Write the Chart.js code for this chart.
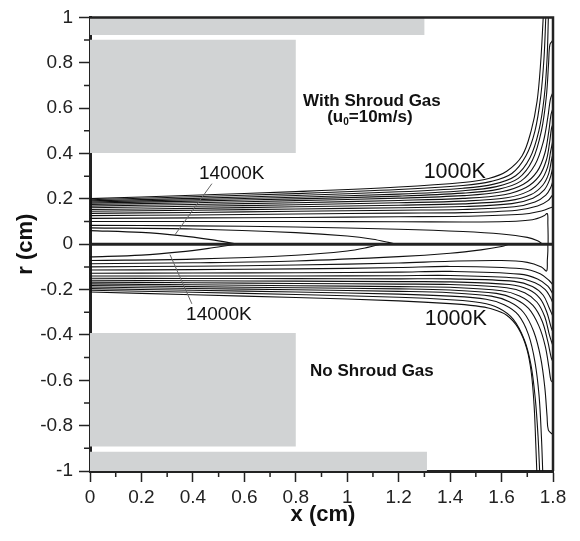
<!DOCTYPE html>
<html><head><meta charset="utf-8">
<script src="https://cdn.jsdelivr.net/npm/chart.js@4/dist/chart.umd.min.js"></script>
<style>html,body{margin:0;padding:0;background:#fff}#wrap{width:580px;height:541px;position:relative}</style>
</head><body><div id="wrap"><canvas id="c" width="580" height="541"></canvas></div>
<script>
// ---- axis ticks ----
const xTicks = [0,0.2,0.4,0.6,0.8,1,1.2,1.4,1.6,1.8];
const xTickLabels = ['0','0.2','0.4','0.6','0.8','1','1.2','1.4','1.6','1.8'];
const xMinorTicks = [0.1,0.3,0.5,0.7,0.9,1.1,1.3,1.5,1.7];
const yTicks = [-1,-0.8,-0.6,-0.4,-0.2,0,0.2,0.4,0.6,0.8,1];
const yTickLabels = ['-1','-0.8','-0.6','-0.4','-0.2','0','0.2','0.4','0.6','0.8','1'];
const yMinorTicks = [-0.9,-0.7,-0.5,-0.3,-0.1,0.1,0.3,0.5,0.7,0.9];

// ---- grey blocks (x0, x1, r0, r1) ----
const blocks = [
  [0,1.30,0.922,1.0],
  [0,0.80,0.402,0.902],
  [0,0.80,-0.892,-0.392],
  [0,1.31,-1.0,-0.915]
];

// ---- isotherms, upper half (with shroud gas) [x, r] ----
const upperLines = [
  [[0,0.201],[0.4,0.216],[0.8,0.232],[1.2,0.252],[1.45,0.272],[1.55,0.29],[1.62,0.322],[1.68,0.39],[1.715,0.5],[1.738,0.63],[1.752,0.8],[1.762,1.0]],
  [[0,0.196],[0.4,0.209],[0.8,0.223],[1.2,0.241],[1.45,0.259],[1.56,0.277],[1.64,0.312],[1.695,0.39],[1.73,0.5],[1.752,0.65],[1.765,0.82],[1.772,1.0]],
  [[0,0.191],[0.4,0.202],[0.8,0.215],[1.2,0.231],[1.45,0.247],[1.57,0.265],[1.655,0.302],[1.71,0.38],[1.745,0.5],[1.766,0.65],[1.777,0.82],[1.782,1.0]],
  [[0,0.186],[0.4,0.196],[0.8,0.207],[1.2,0.221],[1.45,0.236],[1.58,0.254],[1.665,0.29],[1.72,0.37],[1.755,0.5],[1.774,0.65],[1.783,0.8],[1.788,0.88],[1.8,0.9]],
  [[0,0.181],[0.4,0.19],[0.8,0.2],[1.2,0.212],[1.45,0.225],[1.59,0.243],[1.675,0.278],[1.73,0.35],[1.762,0.45],[1.78,0.56],[1.79,0.64],[1.8,0.67]],
  [[0,0.175],[0.4,0.183],[0.8,0.192],[1.2,0.203],[1.45,0.214],[1.6,0.231],[1.685,0.264],[1.738,0.32],[1.768,0.4],[1.784,0.5],[1.792,0.57],[1.8,0.6]],
  [[0,0.168],[0.4,0.175],[0.8,0.183],[1.2,0.193],[1.45,0.202],[1.61,0.218],[1.695,0.25],[1.746,0.3],[1.774,0.37],[1.787,0.45],[1.794,0.51],[1.8,0.53]],
  [[0,0.161],[0.4,0.167],[0.8,0.174],[1.2,0.183],[1.45,0.19],[1.62,0.205],[1.705,0.234],[1.753,0.28],[1.779,0.34],[1.791,0.41],[1.8,0.46]],
  [[0,0.153],[0.4,0.158],[0.8,0.165],[1.2,0.172],[1.45,0.178],[1.63,0.192],[1.715,0.219],[1.76,0.26],[1.783,0.31],[1.794,0.37],[1.8,0.4]],
  [[0,0.145],[0.4,0.15],[0.8,0.155],[1.2,0.161],[1.45,0.166],[1.64,0.179],[1.722,0.203],[1.766,0.24],[1.787,0.285],[1.8,0.34]],
  [[0,0.136],[0.4,0.14],[0.8,0.145],[1.2,0.15],[1.45,0.153],[1.65,0.165],[1.73,0.186],[1.772,0.216],[1.791,0.25],[1.8,0.28]],
  [[0,0.126],[0.4,0.129],[0.8,0.133],[1.2,0.137],[1.45,0.139],[1.66,0.15],[1.74,0.168],[1.78,0.192],[1.8,0.22]],
  [[0,0.114],[0.4,0.116],[0.8,0.118],[1.2,0.121],[1.45,0.123],[1.68,0.132],[1.755,0.146],[1.8,0.165]],
  [[0,0.1],[0.4,0.1],[0.8,0.1],[1.2,0.099],[1.45,0.098],[1.62,0.1],[1.72,0.108],[1.765,0.125],[1.778,0.135],[1.78,0.09],[1.781,0.04],[1.781,0]],
  [[0,0.083],[0.4,0.081],[0.8,0.076],[1.2,0.066],[1.45,0.056],[1.6,0.045],[1.7,0.03],[1.74,0.015],[1.76,0]],
  [[0,0.072],[0.4,0.067],[0.8,0.051],[1.0,0.036],[1.1,0.022],[1.16,0.008],[1.19,0]],
  [[0,0.06],[0.2,0.052],[0.35,0.038],[0.47,0.02],[0.576,0]]
];

// ---- isotherms, lower half (no shroud gas) [x, r] ----
const lowerLines = [
  [[0,-0.211],[0.4,-0.223],[0.8,-0.235],[1.2,-0.25],[1.4,-0.262],[1.5,-0.272],[1.56,-0.285],[1.62,-0.313],[1.665,-0.37],[1.698,-0.46],[1.716,-0.57],[1.727,-0.72],[1.733,-0.88],[1.737,-1.0]],
  [[0,-0.203],[0.4,-0.212],[0.8,-0.222],[1.2,-0.234],[1.4,-0.245],[1.52,-0.258],[1.59,-0.282],[1.645,-0.33],[1.688,-0.42],[1.714,-0.53],[1.731,-0.68],[1.742,-0.85],[1.748,-1.0]],
  [[0,-0.196],[0.4,-0.203],[0.8,-0.211],[1.2,-0.22],[1.4,-0.229],[1.54,-0.243],[1.61,-0.267],[1.665,-0.312],[1.705,-0.4],[1.73,-0.52],[1.746,-0.67],[1.755,-0.85],[1.76,-1.0]],
  [[0,-0.189],[0.4,-0.195],[0.8,-0.201],[1.2,-0.208],[1.4,-0.214],[1.56,-0.229],[1.63,-0.254],[1.685,-0.3],[1.725,-0.385],[1.752,-0.5],[1.768,-0.63],[1.777,-0.76],[1.782,-0.82],[1.8,-0.84]],
  [[0,-0.182],[0.4,-0.187],[0.8,-0.192],[1.2,-0.197],[1.4,-0.202],[1.58,-0.217],[1.65,-0.24],[1.705,-0.283],[1.745,-0.36],[1.77,-0.45],[1.785,-0.55],[1.792,-0.6],[1.8,-0.61]],
  [[0,-0.175],[0.4,-0.179],[0.8,-0.183],[1.2,-0.187],[1.4,-0.19],[1.6,-0.205],[1.67,-0.228],[1.722,-0.27],[1.758,-0.34],[1.78,-0.43],[1.793,-0.5],[1.8,-0.52]],
  [[0,-0.167],[0.4,-0.17],[0.8,-0.173],[1.2,-0.176],[1.4,-0.178],[1.62,-0.192],[1.69,-0.214],[1.738,-0.256],[1.768,-0.32],[1.786,-0.4],[1.8,-0.45]],
  [[0,-0.159],[0.4,-0.161],[0.8,-0.163],[1.2,-0.165],[1.4,-0.166],[1.63,-0.178],[1.705,-0.2],[1.75,-0.24],[1.776,-0.3],[1.791,-0.36],[1.8,-0.39]],
  [[0,-0.15],[0.4,-0.151],[0.8,-0.152],[1.2,-0.153],[1.4,-0.153],[1.65,-0.164],[1.72,-0.186],[1.762,-0.225],[1.785,-0.28],[1.8,-0.32]],
  [[0,-0.14],[0.4,-0.14],[0.8,-0.14],[1.2,-0.139],[1.4,-0.138],[1.66,-0.149],[1.73,-0.17],[1.77,-0.2],[1.79,-0.235],[1.8,-0.26]],
  [[0,-0.128],[0.4,-0.127],[0.8,-0.126],[1.2,-0.123],[1.4,-0.12],[1.67,-0.132],[1.74,-0.153],[1.78,-0.185],[1.8,-0.22]],
  [[0,-0.114],[0.4,-0.112],[0.8,-0.109],[1.2,-0.103],[1.4,-0.098],[1.68,-0.108],[1.75,-0.13],[1.785,-0.16],[1.8,-0.18]],
  [[0,-0.1],[0.4,-0.097],[0.8,-0.092],[1.2,-0.083],[1.4,-0.075],[1.6,-0.072],[1.7,-0.08],[1.755,-0.1],[1.775,-0.118],[1.778,-0.07],[1.78,-0.03],[1.78,0]],
  [[0,-0.086],[0.4,-0.082],[0.8,-0.074],[1.2,-0.055],[1.4,-0.04],[1.52,-0.025],[1.6,-0.01],[1.63,0]],
  [[0,-0.072],[0.4,-0.066],[0.8,-0.049],[1.0,-0.03],[1.08,-0.014],[1.13,0]],
  [[0,-0.056],[0.2,-0.048],[0.35,-0.034],[0.47,-0.017],[0.57,0]]
];

const axisLine = [[0,0],[1.8,0]];
const leaderUpper = [[0.474,0.267],[0.33,0.041]];
const leaderLower = [[0.311,-0.046],[0.396,-0.263]];

const FONT = '"Liberation Sans", Arial, sans-serif';

// ---- annotation texts ----
const labels = [
  {text:'14000K', x:0.551, r:0.311, font:'19px ' + FONT},
  {text:'14000K', x:0.501, r:-0.311, font:'19px ' + FONT},
  {text:'1000K', x:1.418, r:0.32, font:'21.5px ' + FONT},
  {text:'1000K', x:1.422, r:-0.328, font:'21.5px ' + FONT},
  {text:'With Shroud Gas', x:1.096, r:0.628, font:'bold 17px ' + FONT},
  {text:'No Shroud Gas', x:1.096, r:-0.559, font:'bold 17px ' + FONT}
];

const toPts = a => a.map(p => ({x:p[0], y:p[1]}));
const datasets = [];
blocks.forEach(b => {
  datasets.push({data: toPts([[b[0],b[2]],[b[1],b[2]],[b[1],b[3]],[b[0],b[3]],[b[0],b[2]]]),
    showLine:true, fill:'shape', backgroundColor:'rgb(209,211,212)', borderWidth:0, borderColor:'rgba(0,0,0,0)',
    pointRadius:0, tension:0, order:10});
});
[...upperLines, ...lowerLines].forEach(l => {
  datasets.push({data: toPts(l), showLine:true, fill:false, borderColor:'#111', borderWidth:1.1,
    pointRadius:0, tension:0.35, order:5});
});
[leaderUpper, leaderLower].forEach(l => {
  datasets.push({data: toPts(l), showLine:true, fill:false, borderColor:'#666', borderWidth:1,
    pointRadius:0, tension:0, order:4});
});
datasets.push({data: toPts(axisLine), showLine:true, fill:false, borderColor:'#222', borderWidth:3,
  pointRadius:0, tension:0, order:1});

const deco = {
  id:'deco',
  afterDraw(chart){
    const {ctx, chartArea:a, scales:{x, y}} = chart;
    ctx.save();
    // top & right frame
    ctx.strokeStyle = '#222';
    ctx.lineWidth = 2.5;
    ctx.beginPath();
    ctx.moveTo(a.left, a.top); ctx.lineTo(a.right, a.top); ctx.lineTo(a.right, a.bottom);
    ctx.stroke();
    // minor ticks
    ctx.lineWidth = 1.5;
    ctx.beginPath();
    xMinorTicks.forEach(v => { const px = x.getPixelForValue(v); ctx.moveTo(px, a.bottom); ctx.lineTo(px, a.bottom + 6); });
    yMinorTicks.forEach(v => { const py = y.getPixelForValue(v); ctx.moveTo(a.left, py); ctx.lineTo(a.left - 6, py); });
    ctx.stroke();
    // labels
    ctx.fillStyle = '#111';
    ctx.textAlign = 'center';
    ctx.textBaseline = 'middle';
    labels.forEach(L => {
      ctx.font = L.font;
      ctx.fillText(L.text, x.getPixelForValue(L.x), y.getPixelForValue(L.r));
    });
    // (u0=10m/s) with subscript
    {
      const cx = x.getPixelForValue(1.088), cy = y.getPixelForValue(0.559);
      const big = 'bold 17px ' + FONT, small = 'bold 10px ' + FONT;
      ctx.font = big; const w1 = ctx.measureText('(u').width; const w3 = ctx.measureText('=10m/s)').width;
      ctx.font = small; const w2 = ctx.measureText('0').width;
      let sx = cx - (w1 + w2 + w3) / 2;
      ctx.textAlign = 'left';
      ctx.font = big; ctx.fillText('(u', sx, cy); sx += w1;
      ctx.font = small; ctx.fillText('0', sx, cy + 5); sx += w2;
      ctx.font = big; ctx.fillText('=10m/s)', sx, cy);
    }
    // axis titles
    ctx.textAlign = 'center';
    ctx.font = 'bold 22px ' + FONT;
    ctx.fillText('x (cm)', 323, 515);
    ctx.translate(26, (a.top + a.bottom) / 2);
    ctx.rotate(-Math.PI / 2);
    ctx.fillText('r (cm)', 0, 0);
    ctx.restore();
  }
};

new Chart(document.getElementById('c'), {
  type:'scatter',
  data:{datasets},
  options:{
    responsive:false, animation:false, events:[],
    layout:{padding:{top:11, right:27, left:0, bottom:0}},
    plugins:{legend:{display:false}, tooltip:{enabled:false}},
    scales:{
      x:{type:'linear', min:0, max:1.8,
        afterBuildTicks: s => { s.ticks = xTicks.map(v => ({value:v})); },
        afterFit: s => { s.height = 70; },
        ticks:{autoSkip:false, maxRotation:0, padding:4, color:'#222',
          font:{family:FONT, size:19}, callback:(v,i) => xTickLabels[i]},
        grid:{drawOnChartArea:false, tickLength:11, tickWidth:1.5, tickColor:'#222'},
        border:{width:3, color:'#222'}},
      y:{type:'linear', min:-1, max:1,
        afterBuildTicks: s => { s.ticks = yTicks.map(v => ({value:v})); },
        afterFit: s => { s.width = 90; },
        ticks:{autoSkip:false, padding:6, color:'#222',
          font:{family:FONT, size:19}, callback:(v,i) => yTickLabels[i]},
        grid:{drawOnChartArea:false, tickLength:11, tickWidth:1.5, tickColor:'#222'},
        border:{width:3, color:'#222'}}
    }
  },
  plugins:[deco]
});
</script></body></html>
